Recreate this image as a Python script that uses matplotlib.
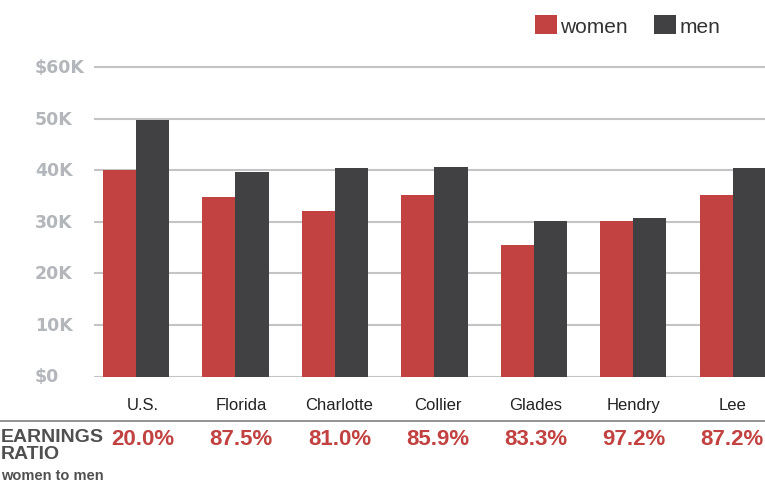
import matplotlib.pyplot as plt
import numpy as np
from matplotlib.transforms import blended_transform_factory

# data
places = ['U.S.', 'Florida', 'Charlotte', 'Collier', 'Glades', 'Hendry', 'Lee']
women = [40000, 34800, 32100, 35200, 25500, 30100, 35200]
men = [49700, 39600, 40400, 40600, 30100, 30700, 40400]
ratios = ['20.0%', '87.5%', '81.0%', '85.9%', '83.3%', '97.2%', '87.2%']
yticks = [0, 10000, 20000, 30000, 40000, 50000, 60000]
ytick_labels = ['$0', '10K', '20K', '30K', '40K', '50K', '$60K']

red = '#c24141'
dark = '#414143'
W, H = 765, 485

fig = plt.figure(figsize=(W / 100, H / 100), dpi=100)
# axes placed in pixel terms: left at 94px, $0 at y=377.5, 62K at y=57.7
y0, ytop = 377.5, 57.7
ax = fig.add_axes([94 / W, (H - y0) / H, 1 - 94 / W, (y0 - ytop) / H])

x = np.arange(len(places))
bw = 0.332
b1 = ax.bar(x - bw / 2, women, bw, color=red, label='women', zorder=3)
b2 = ax.bar(x + bw / 2, men, bw, color=dark, label='men', zorder=3)

ax.set_xlim(-0.422, 6.322)
ax.set_ylim(0, 62000)
ax.set_yticks(yticks)
ax.yaxis.grid(True, color='#c4c4c4', linewidth=1.5, zorder=0)
ax.tick_params(left=False, bottom=False, labelleft=False, labelbottom=False)
for s in ax.spines.values():
    s.set_visible(False)

# y labels, left aligned near the figure edge
tr = blended_transform_factory(fig.transFigure, ax.transData)
for v, lab in zip(yticks, ytick_labels):
    ax.text(35 / W, v, lab, transform=tr, ha='left', va='center',
            fontsize=12.5, fontweight='bold', color='#b3b6ba',
            family='DejaVu Sans', clip_on=False)

# category names and ratios sit in a table row slightly narrower than the bars
for i in range(len(places)):
    cx = (143 + i * 98.2) / W
    fig.text(cx, (H - 406) / H, places[i], ha='center', va='center',
             fontsize=12, color='#222222', family='Liberation Sans')
    fig.text(cx, (H - 440) / H, ratios[i], ha='center', va='center',
             fontsize=16, fontweight='bold', color=red, family='Liberation Sans')

# separator line
fig.add_artist(plt.Line2D([0, 1], [(H - 422) / H] * 2, color='#8a8a8a', linewidth=1.3,
                          transform=fig.transFigure))

fig.text(1 / W, (H - 438) / H, 'EARNINGS', ha='left', va='center', fontsize=14,
         fontweight='bold', color='#505050', family='Liberation Sans')
fig.text(1 / W, (H - 455) / H, 'RATIO', ha='left', va='center', fontsize=14,
         fontweight='bold', color='#505050', family='Liberation Sans')
fig.text(1 / W, (H - 476) / H, 'women to men', ha='left', va='center', fontsize=10.5,
         fontweight='bold', color='#505050', family='Liberation Sans')

fig.legend(handles=[b1, b2], loc='upper left', bbox_to_anchor=(516 / W, 1 + 3 / H),
           ncol=2, frameon=False, handlelength=1.05, handleheight=1.05,
           handletextpad=0.15, columnspacing=1.3,
           prop={'family': 'Liberation Sans', 'size': 15})
for t in fig.legends[0].get_texts():
    t.set_color('#333333')

plt.savefig('out.png', dpi=100)
